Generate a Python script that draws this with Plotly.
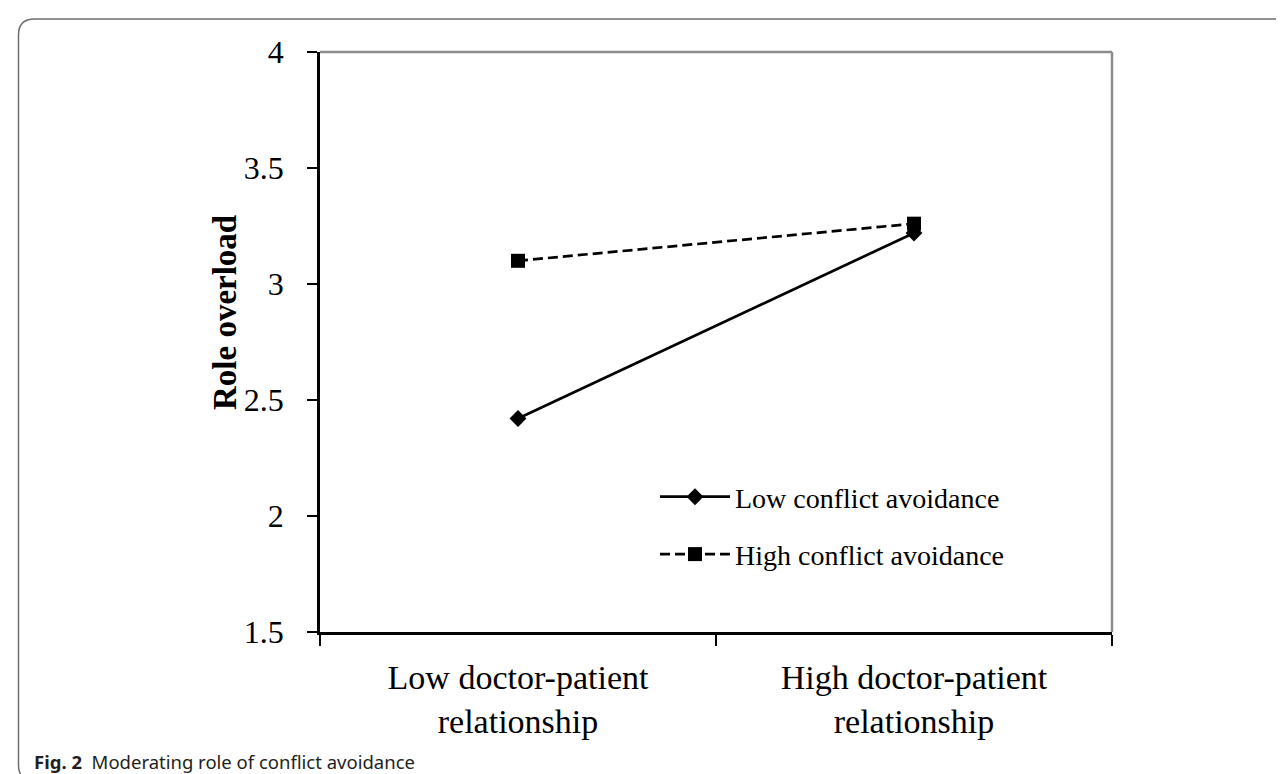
import plotly.graph_objects as go

categories = ["Low doctor-patient<br>relationship", "High doctor-patient<br>relationship"]
low_avoid = [2.42, 3.22]
high_avoid = [3.10, 3.26]
series_names = ["Low conflict avoidance", "High conflict avoidance"]
y_ticks = [1.5, 2, 2.5, 3, 3.5, 4]

W, H = 1284, 774
L, R, T, B = 312, 1104, 44, 624  # plot area in px
pw, ph = R - L, B - T

def px(x):
    return (x - L) / pw

def py(y):
    return (B - y) / ph

SERIF = "Liberation Serif, Times New Roman, serif"

fig = go.Figure()
fig.add_trace(go.Scatter(
    x=categories, y=low_avoid, name=series_names[0], legendgroup="a",
    mode="lines+markers",
    line=dict(color="black", width=2.7),
    marker=dict(symbol="diamond", size=13, color="black"),
))
fig.add_trace(go.Scatter(
    x=categories, y=high_avoid, name=series_names[1], legendgroup="b",
    mode="lines+markers",
    line=dict(color="black", width=2.7, dash="10px,5px"),
    marker=dict(symbol="square", size=14, color="black"),
))

# outer rounded frame
x0, x1, y0, y1, r = 10.5, 1300, 11, 773, 16
path = (f"M {px(x0)},{py(y0 + r)} "
        f"Q {px(x0)},{py(y0)} {px(x0 + r)},{py(y0)} "
        f"L {px(x1)},{py(y0)} "
        f"M {px(x0)},{py(y0 + r)} L {px(x0)},{py(y1 - r)} "
        f"Q {px(x0)},{py(y1)} {px(x0 + r)},{py(y1)}")
shapes = [
    dict(type="path", xref="paper", yref="paper", path=path,
         line=dict(color="#6e6e6e", width=1.5), layer="above"),
    dict(type="line", xref="paper", yref="paper", x0=0, x1=1, y0=1, y1=1,
         line=dict(color="#8c8c8c", width=2.5)),
    dict(type="line", xref="paper", yref="paper", x0=1, x1=1, y0=0, y1=1,
         line=dict(color="#8c8c8c", width=2.5)),
]

fig.update_layout(
    width=W, height=H,
    margin=dict(l=L, r=W - R, t=T, b=H - B, pad=0),
    paper_bgcolor="white", plot_bgcolor="white",
    font=dict(family=SERIF, color="black", size=33),
    shapes=shapes,
    showlegend=True,
    legend=dict(
        x=px(647), y=py(464), xanchor="left", yanchor="top",
        font=dict(family=SERIF, size=28, color="black"),
        bgcolor="rgba(0,0,0,0)", tracegroupgap=18, itemwidth=70,
    ),
    xaxis=dict(
        type="category", range=[-0.5, 1.5],
        showline=True, linecolor="black", linewidth=2.5,
        ticks="outside", tickson="boundaries", ticklen=11, tickwidth=1.5, tickcolor="black",
        showgrid=False, zeroline=False, ticklabelstandoff=13,
        tickfont=dict(family=SERIF, size=34),
    ),
    yaxis=dict(
        range=[1.5, 4], tickvals=y_ticks, ticktext=[f"{v:g}" for v in y_ticks],
        showline=True, linecolor="black", linewidth=2.5,
        ticks="outside", ticklen=10, tickwidth=1.5, tickcolor="black",
        showgrid=False, zeroline=False, ticklabelstandoff=17,
        tickfont=dict(family=SERIF, size=32),
    ),
    annotations=[
        dict(
            xref="paper", yref="paper", x=px(217), y=py(305), xanchor="center", yanchor="middle",
            text="<b>Role overload</b>", textangle=-90, showarrow=False,
            font=dict(family=SERIF, size=33, color="black"),
        ),
        dict(
            xref="paper", yref="paper", x=px(24), y=py(753), xanchor="left", yanchor="middle",
            text="<b>Fig. 2</b>  Moderating role of conflict avoidance",
            showarrow=False, font=dict(family="Noto Sans, Open Sans, sans-serif", size=18.5, color="#231f20"),
        ),
    ],
)

fig.write_html("out.html")
